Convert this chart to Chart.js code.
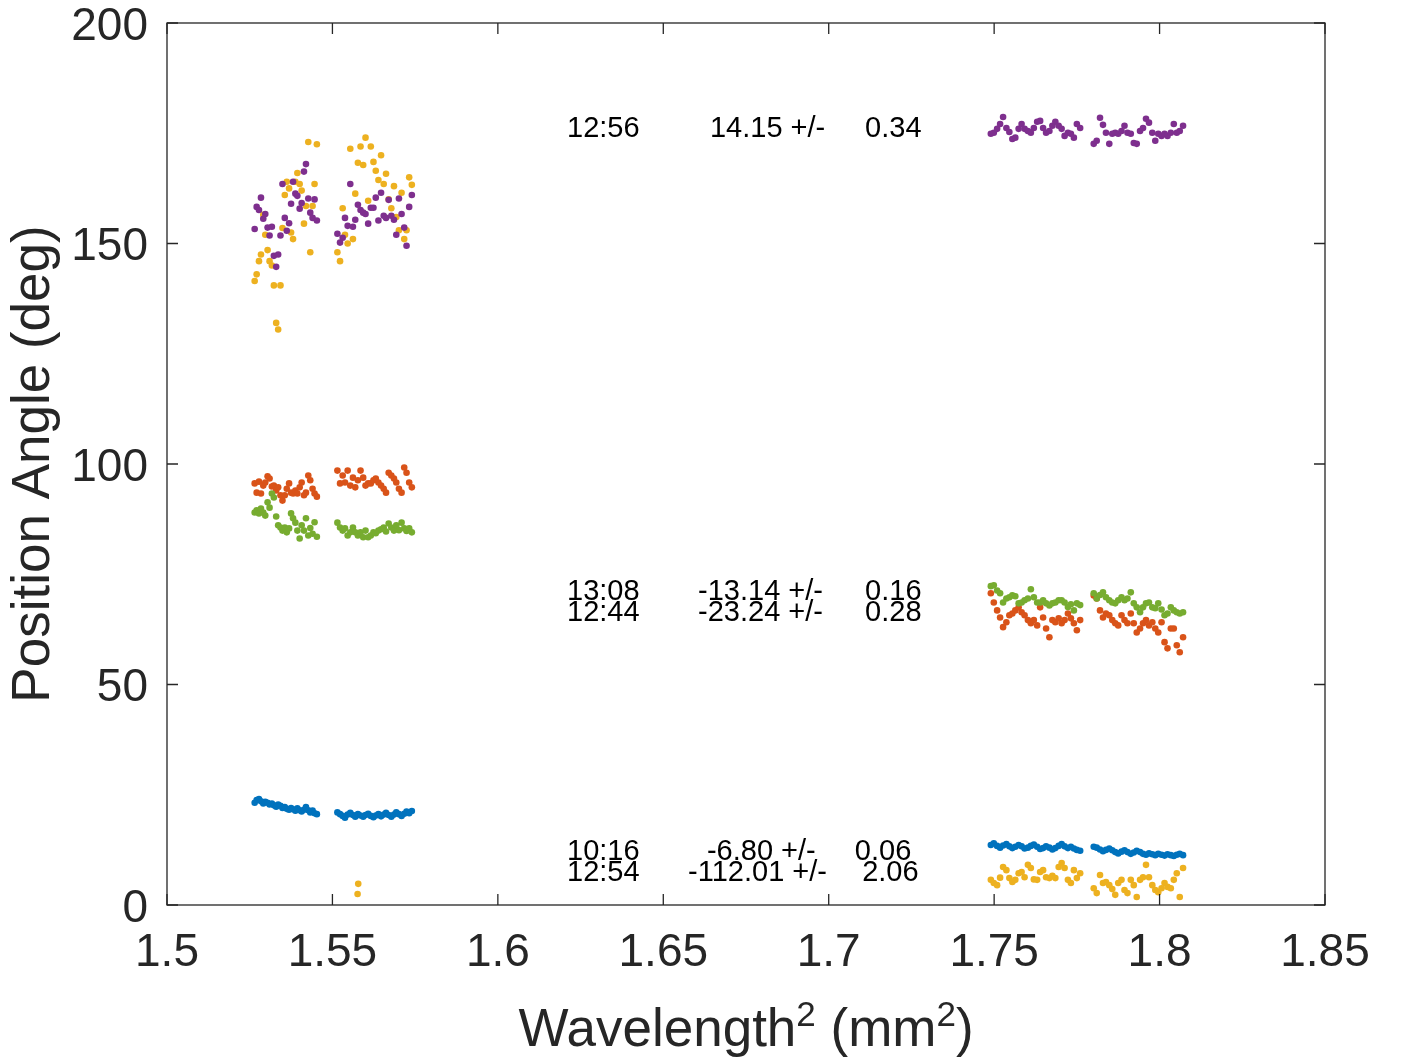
<!DOCTYPE html>
<html>
<head>
<meta charset="utf-8">
<title>Position angle vs wavelength squared</title>
<script src="https://cdn.jsdelivr.net/npm/chart.js@4.4.1/dist/chart.umd.min.js"></script>
<style>
    html, body { margin: 0; padding: 0; background: #fff; }
    #wrap { width: 1403px; height: 1059px; }
</style>
</head>
<body>
<div id="wrap"><canvas id="paChart" width="1403" height="1059"></canvas></div>
<script>
// Wavelength^2 channels (mm^2), one array per band
var xBandA = [1.5265, 1.5271, 1.5278, 1.5284, 1.5291, 1.5297, 1.5304, 1.5310, 1.5317, 1.5323,
              1.5330, 1.5336, 1.5343, 1.5349, 1.5356, 1.5362, 1.5369, 1.5375, 1.5381, 1.5388,
              1.5394, 1.5401, 1.5407, 1.5414, 1.5420, 1.5427, 1.5433, 1.5440, 1.5446, 1.5453];
var xBandB = [1.5515, 1.5523, 1.5531, 1.5538, 1.5546, 1.5554, 1.5562, 1.5569, 1.5577, 1.5585,
              1.5593, 1.5600, 1.5608, 1.5616, 1.5624, 1.5631, 1.5639, 1.5647, 1.5655, 1.5662,
              1.5670, 1.5678, 1.5686, 1.5693, 1.5701, 1.5709, 1.5717, 1.5724, 1.5732, 1.5740];
var xBandC = [1.7490, 1.7499, 1.7509, 1.7518, 1.7527, 1.7537, 1.7546, 1.7555, 1.7564, 1.7574,
              1.7583, 1.7592, 1.7602, 1.7611, 1.7620, 1.7630, 1.7639, 1.7648, 1.7657, 1.7667,
              1.7676, 1.7685, 1.7695, 1.7704, 1.7713, 1.7723, 1.7732, 1.7741, 1.7750, 1.7760];
var xBandD = [1.7801, 1.7810, 1.7820, 1.7829, 1.7838, 1.7848, 1.7857, 1.7866, 1.7875, 1.7885,
              1.7894, 1.7903, 1.7913, 1.7922, 1.7931, 1.7941, 1.7950, 1.7959, 1.7968, 1.7978,
              1.7987, 1.7996, 1.8006, 1.8015, 1.8024, 1.8034, 1.8043, 1.8052, 1.8061, 1.8071];

// Position angle (deg) per observation, per band
var pa1016A = [23.2, 23.8, 24.0, 23.5, 23.0, 23.4, 23.2, 22.8, 23.0, 22.6, 22.3, 22.8, 22.5, 22.0, 22.2,
               21.8, 21.6, 22.0, 21.7, 21.4, 21.9, 21.5, 21.2, 21.6, 22.2, 21.5, 21.0, 21.4, 20.8, 20.6];
var pa1016B = [21.0, 20.6, 20.2, 19.8, 20.5, 20.9, 20.4, 20.0, 20.6, 20.3, 20.0, 20.4, 20.7, 20.2, 19.9,
               20.3, 20.6, 20.1, 20.5, 20.9, 20.4, 20.0, 20.5, 21.0, 20.6, 20.2, 20.7, 21.2, 20.8, 21.3];
var pa1016C = [13.6, 14.0, 13.4, 13.0, 13.5, 13.8, 13.3, 12.9, 13.2, 13.6, 13.3, 12.8, 13.0, 13.4, 13.7,
               13.2, 12.7, 12.9, 13.3, 13.0, 12.6, 12.9, 13.4, 13.8, 13.3, 12.9, 13.2, 12.8, 12.5, 12.3];
var pa1016D = [13.2, 13.0, 12.6, 12.2, 12.5, 12.8, 12.4, 12.0, 11.7, 12.1, 12.4, 12.0, 11.6, 11.9, 12.3,
               12.0, 11.6, 11.4, 11.7, 11.5, 11.3, 11.6, 11.4, 11.2, 11.5, 11.3, 11.1, 11.4, 11.6, 11.3];

var pa1244A = [95.6, 93.5, 96.0, 93.3, 95.1, 95.8, 97.2, 96.7, 94.9, 95.1, 94.0, 94.7, 92.9, 91.7, 92.9,
               94.4, 95.6, 93.5, 93.3, 94.0, 93.3, 94.7, 95.8, 92.9, 93.5, 97.4, 96.3, 94.4, 93.3, 92.6];
var pa1244B = [98.5, 95.6, 97.4, 95.8, 98.5, 95.1, 96.9, 94.7, 96.3, 98.5, 96.9, 95.1, 95.6, 95.6, 96.3,
               96.7, 95.8, 95.1, 94.4, 93.5, 98.0, 97.4, 96.7, 95.8, 94.4, 93.5, 99.2, 98.0, 95.8, 94.7];
var pa1244C = [70.7, 68.6, 66.8, 65.2, 63.0, 64.1, 65.7, 66.1, 66.8, 67.5, 66.4, 65.7, 64.6, 63.9, 64.6,
               63.4, 67.5, 65.2, 62.7, 60.7, 64.6, 64.1, 65.0, 63.9, 64.6, 66.1, 65.0, 63.9, 62.3, 64.6];
var pa1244D = [70.2, 69.5, 66.8, 65.2, 66.1, 65.7, 64.6, 63.9, 63.4, 65.7, 64.6, 63.9, 66.1, 63.9, 61.8,
               62.7, 63.9, 64.6, 63.4, 64.1, 62.7, 61.8, 64.1, 59.6, 58.2, 62.7, 62.7, 58.9, 57.3, 60.7];

var pa1254A = [141.5, 143.0, 146.0, 147.5, 156.5, 152.0, 148.5, 146.0, 145.0, 140.5, 132.0, 130.5, 140.5, 153.5, 161.0,
               164.0, 162.5, 152.5, 151.0, 164.0, 166.0, 163.5, 162.0, 154.5, 158.5, 173.0, 148.0, 158.5, 163.5, 172.5];
var pa1254B = [148.0, 146.0, 158.0, 152.0, 150.0, 171.5, 151.0, 161.3, 168.3, 172.0, 167.8, 174.0, 159.7, 172.0, 168.5,
               166.5, 164.4, 170.0, 163.5, 165.8, 160.0, 158.0, 163.0, 156.0, 153.0, 161.5, 151.0, 153.0, 165.0, 163.3];
var pa1254C = [5.7, 5.0, 4.5, 6.2, 8.6, 7.9, 6.1, 5.2, 5.7, 7.2, 7.5, 6.3, 9.1, 8.4, 5.8,
               5.7, 7.5, 7.9, 6.3, 6.1, 6.6, 6.1, 8.6, 9.5, 8.4, 5.7, 5.0, 7.9, 6.1, 7.2];
var pa1254D = [3.8, 2.7, 6.8, 5.0, 5.2, 4.5, 3.6, 2.3, 5.0, 5.7, 3.4, 2.7, 5.7, 4.5, 1.8,
               5.7, 6.3, 9.1, 6.3, 4.5, 3.4, 2.9, 3.8, 5.0, 4.1, 3.8, 5.7, 7.2, 1.8, 8.4];
// two wrapped channels of the 12:54 scan
var pa1254StrayX = [1.5578, 1.5576];
var pa1254StrayY = [4.8, 2.5];

var pa1256A = [153.3, 158.3, 157.6, 160.4, 155.6, 156.7, 153.6, 151.8, 153.8, 147.2, 144.7, 147.5, 151.8, 163.5, 155.8,
               152.9, 154.6, 159.0, 164.0, 161.3, 160.8, 157.9, 159.2, 166.3, 168.0, 160.2, 157.0, 155.8, 160.0, 155.2];
var pa1256B = [152.2, 150.2, 151.3, 155.8, 154.0, 163.5, 153.8, 155.4, 158.8, 157.6, 157.0, 156.7, 154.5, 158.1, 158.1,
               160.4, 155.2, 161.5, 156.3, 155.8, 159.9, 156.3, 155.4, 152.0, 160.2, 156.7, 153.6, 149.5, 158.3, 161.0];
var pa1256C = [174.9, 175.1, 176.0, 177.1, 178.7, 176.2, 175.3, 173.7, 174.0, 176.0, 177.1, 176.0, 175.5, 175.1, 176.2,
               177.6, 177.8, 176.2, 175.1, 175.5, 176.7, 177.6, 176.7, 176.0, 174.4, 175.1, 174.9, 174.0, 177.1, 176.2];
var pa1256D = [172.6, 173.3, 178.5, 176.9, 175.1, 172.6, 174.9, 175.1, 174.9, 175.5, 176.7, 175.1, 174.9, 172.8, 172.6,
               175.5, 176.2, 178.3, 177.4, 175.1, 173.3, 174.9, 174.4, 174.9, 174.4, 175.1, 177.1, 175.1, 175.5, 176.7];

var pa1308A = [89.0, 89.5, 88.8, 89.9, 89.0, 88.3, 91.3, 90.1, 93.3, 92.4, 88.1, 86.1, 85.6, 84.9, 85.6,
               84.5, 85.4, 88.8, 87.7, 86.7, 84.9, 83.1, 86.1, 84.9, 87.7, 83.8, 85.5, 84.2, 86.8, 83.5];
var pa1308B = [86.7, 85.6, 84.9, 85.4, 83.8, 84.5, 85.6, 84.5, 83.8, 84.5, 83.4, 84.9, 83.4, 83.8, 84.5,
               84.3, 84.9, 85.2, 85.6, 84.7, 86.5, 85.6, 84.9, 86.1, 85.0, 86.7, 85.4, 84.8, 85.4, 84.5];
var pa1308C = [72.3, 72.5, 71.3, 70.7, 68.6, 69.5, 69.8, 70.2, 70.0, 68.4, 68.6, 69.1, 69.5, 71.6, 69.8,
               68.6, 68.6, 69.1, 68.4, 67.9, 68.4, 68.6, 69.1, 69.1, 68.6, 67.6, 68.2, 66.8, 68.4, 68.0];
var pa1308D = [70.7, 69.5, 70.3, 70.9, 69.8, 69.1, 68.6, 68.4, 69.1, 69.8, 69.1, 69.5, 70.9, 68.4, 67.5,
               66.4, 67.5, 68.4, 68.6, 67.5, 67.3, 68.4, 67.0, 65.7, 66.1, 67.5, 66.8, 66.4, 66.1, 66.4];

// Fitted rotation measures, one line per scan
var noteTimes = ['12:56', '13:08', '12:44', '10:16', '12:54'];
var noteRM = ['14.15', '-13.14', '-23.24', '-6.80', '-112.01'];
var noteErr = ['0.34', '0.16', '0.28', '0.06', '2.06'];

// Axis ticks
var xTickValues = [1.5, 1.55, 1.6, 1.65, 1.7, 1.75, 1.8, 1.85];
var xTickLabels = ['1.5', '1.55', '1.6', '1.65', '1.7', '1.75', '1.8', '1.85'];
var yTickValues = [0, 50, 100, 150, 200];
var yTickLabels = ['0', '50', '100', '150', '200'];

// where the fit notes sit, in data units
var noteLayout = {
    y: [176.0, 70.9, 66.1, 12.0, 7.25],
    timeX: 1.6209,
    rmX: [1.6641, 1.6605, 1.6605, 1.6632, 1.6575],
    errX: [1.7110, 1.7110, 1.7110, 1.7079, 1.7101]
};

var FONT = '"Liberation Sans", Arial, Helvetica, sans-serif';
var INK = '#262626';

function pts(xs, ys) {
    return xs.map(function (x, i) { return { x: x, y: ys[i] }; });
}

function bands(a, b, c, d) {
    return pts(xBandA, a).concat(pts(xBandB, b), pts(xBandC, c), pts(xBandD, d));
}

function scanSet(label, color, data) {
    return {
        label: label,
        data: data,
        backgroundColor: color,
        borderWidth: 0,
        pointRadius: 3.3,
        pointHoverRadius: 3.3
    };
}

// Box with inward ticks on all four sides
var axesBox = {
    id: 'axesBox',
    afterDatasetsDraw: function (chart) {
        var ctx = chart.ctx, a = chart.chartArea;
        var xs = chart.scales.x, ys = chart.scales.y;
        ctx.save();
        ctx.lineWidth = 1.3;
        ctx.strokeStyle = INK;
        ctx.strokeRect(a.left, a.top, a.right - a.left, a.bottom - a.top);
        ctx.beginPath();
        xTickValues.forEach(function (v) {
            var px = xs.getPixelForValue(v);
            ctx.moveTo(px, a.bottom); ctx.lineTo(px, a.bottom - 11);
            ctx.moveTo(px, a.top); ctx.lineTo(px, a.top + 11);
        });
        yTickValues.forEach(function (v) {
            var py = ys.getPixelForValue(v);
            ctx.moveTo(a.left, py); ctx.lineTo(a.left + 11, py);
            ctx.moveTo(a.right, py); ctx.lineTo(a.right - 11, py);
        });
        ctx.stroke();
        ctx.restore();
    }
};

// Axis titles, with raised "2"
var axisTitles = {
    id: 'axisTitles',
    afterDraw: function (chart) {
        var ctx = chart.ctx, a = chart.chartArea;
        var big = '53px ' + FONT, sup = '35px ' + FONT;
        var parts = [['Wavelength', big, 0], ['2', sup, -20], [' (mm', big, 0], ['2', sup, -20], [')', big, 0]];
        ctx.save();
        ctx.fillStyle = INK;
        ctx.textBaseline = 'alphabetic';
        ctx.textAlign = 'left';
        var total = 0;
        parts.forEach(function (p) { ctx.font = p[1]; total += ctx.measureText(p[0]).width; });
        var x = (a.left + a.right) / 2 - total / 2;
        parts.forEach(function (p) {
            ctx.font = p[1];
            ctx.fillText(p[0], x, 1046 + p[2]);
            x += ctx.measureText(p[0]).width;
        });

        ctx.translate(49, (a.top + a.bottom) / 2);
        ctx.rotate(-Math.PI / 2);
        ctx.font = big;
        ctx.textAlign = 'center';
        ctx.fillText('Position Angle (deg)', 0, 0);
        ctx.restore();
    }
};

// RM fit notes
var fitNotes = {
    id: 'fitNotes',
    afterDraw: function (chart) {
        var ctx = chart.ctx, xs = chart.scales.x, ys = chart.scales.y;
        ctx.save();
        ctx.font = '29px ' + FONT;
        ctx.fillStyle = '#000';
        ctx.textAlign = 'left';
        ctx.textBaseline = 'middle';
        noteTimes.forEach(function (t, i) {
            var py = ys.getPixelForValue(noteLayout.y[i]);
            ctx.fillText(t, xs.getPixelForValue(noteLayout.timeX), py);
            ctx.fillText(noteRM[i] + ' +/-', xs.getPixelForValue(noteLayout.rmX[i]), py);
            ctx.fillText(noteErr[i], xs.getPixelForValue(noteLayout.errX[i]), py);
        });
        ctx.restore();
    }
};

var ctx = document.getElementById('paChart').getContext('2d');
var paChart = new Chart(ctx, {
    type: 'scatter',
    data: {
        datasets: [
            scanSet('12:56', '#7E2F8E', bands(pa1256A, pa1256B, pa1256C, pa1256D)),
            scanSet('13:08', '#77AC30', bands(pa1308A, pa1308B, pa1308C, pa1308D)),
            scanSet('12:44', '#D95319', bands(pa1244A, pa1244B, pa1244C, pa1244D)),
            scanSet('12:54', '#EDB120', bands(pa1254A, pa1254B, pa1254C, pa1254D).concat(pts(pa1254StrayX, pa1254StrayY))),
            scanSet('10:16', '#0072BD', bands(pa1016A, pa1016B, pa1016C, pa1016D))
        ]
    },
    options: {
        responsive: false,
        animation: false,
        devicePixelRatio: 1,
        layout: { padding: { top: 23, right: 78, left: 0, bottom: 0 } },
        plugins: {
            legend: { display: false },
            tooltip: { enabled: false }
        },
        scales: {
            x: {
                type: 'linear',
                min: 1.5,
                max: 1.85,
                grid: { display: false, drawTicks: false },
                border: { display: false },
                afterBuildTicks: function (scale) {
                    scale.ticks = xTickValues.map(function (v) { return { value: v }; });
                },
                afterFit: function (scale) { scale.height = 154; },
                ticks: {
                    autoSkip: false,
                    maxRotation: 0,
                    padding: 21,
                    color: INK,
                    font: { family: FONT, size: 46 },
                    callback: function (v, i) { return xTickLabels[i]; }
                }
            },
            y: {
                min: 0,
                max: 200,
                grid: { display: false, drawTicks: false },
                border: { display: false },
                afterBuildTicks: function (scale) {
                    scale.ticks = yTickValues.map(function (v) { return { value: v }; });
                },
                afterFit: function (scale) { scale.width = 167; },
                ticks: {
                    padding: 19,
                    labelOffset: 4,
                    color: INK,
                    // tiny line height keeps the top label from pushing the plot box down
                    font: { family: FONT, size: 46, lineHeight: 0.1 },
                    callback: function (v, i) { return yTickLabels[i]; }
                }
            }
        }
    },
    plugins: [axesBox, axisTitles, fitNotes]
});
</script>
</body>
</html>
